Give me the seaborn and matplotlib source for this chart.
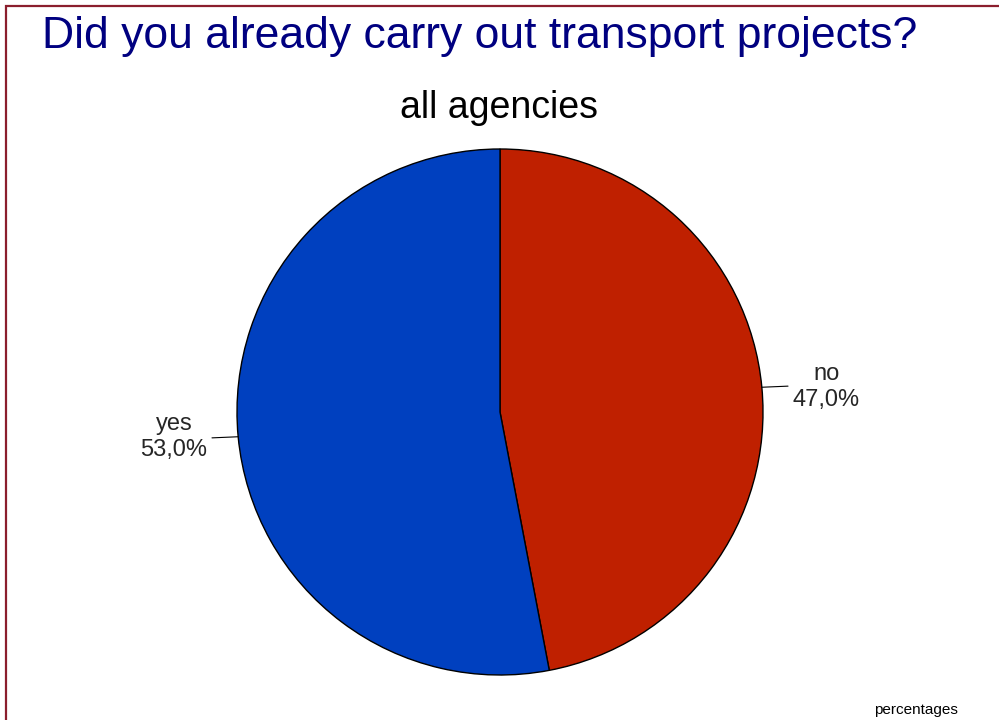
import numpy as np
import matplotlib
matplotlib.use("Agg")
import matplotlib.pyplot as plt
from matplotlib.patches import Rectangle
import seaborn as sns

labels = ["no", "yes"]
shares = [47.0, 53.0]
colors = ["#BF2000", "#0040BF"]

sns.set_style("white")
plt.rcParams["font.family"] = ["Liberation Sans", "DejaVu Sans"]

fig = plt.figure(figsize=(9.99, 7.2), dpi=100)

# maroon frame, only left/top edges fall inside the image
fig.patches.append(Rectangle((5.5 / 999, -0.1), 1.2, 1.1 - 5.5 / 720,
                             transform=fig.transFigure, fill=False,
                             edgecolor="#8B1E2D", linewidth=1.6))

fig.text(42 / 999, 1 - 48 / 720, "Did you already carry out transport projects?",
         fontsize=32, color="#000080", ha="left", va="baseline")
fig.text(0.5, 1 - 118 / 720, "all agencies", fontsize=27, color="black",
         ha="center", va="baseline")
fig.text(916 / 999, 1 - 710 / 720, "percentages", fontsize=11, color="black",
         ha="center", va="center")

ax = fig.add_axes([237 / 999, 45 / 720, 526 / 999, 526 / 720])
wedges, _ = ax.pie(shares, colors=colors, startangle=90, counterclock=False,
                   radius=1.0,
                   wedgeprops=dict(edgecolor="black", linewidth=1.0))
ax.set_xlim(-1, 1)
ax.set_ylim(-1, 1)
ax.set_aspect("equal")
ax.axis("off")

for w, lab, val in zip(wedges, labels, shares):
    mid = np.deg2rad((w.theta1 + w.theta2) / 2)
    c, s = np.cos(mid), np.sin(mid)
    ax.plot([c, 1.1 * c], [s, 1.1 * s * 0.95], color="black", linewidth=0.8,
            clip_on=False)
    ax.text(1.24 * np.sign(c), 1.0 * s, f"{lab}\n{val:.1f}%".replace(".", ","),
            ha="center", va="center", fontsize=17, linespacing=1.25,
            clip_on=False)

fig.savefig("out.png", dpi=100)
